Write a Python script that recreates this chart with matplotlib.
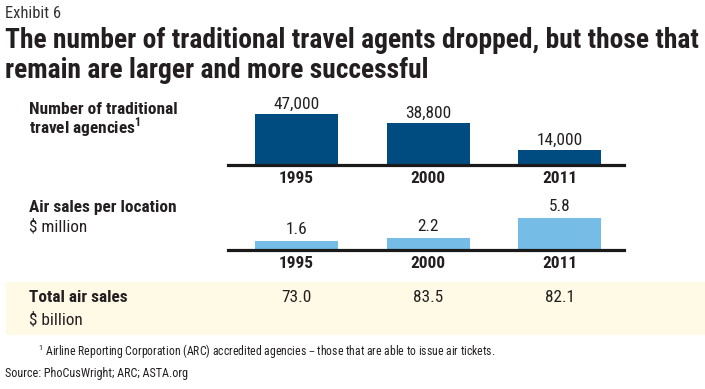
import matplotlib
matplotlib.use("Agg")
import matplotlib.pyplot as plt
from matplotlib.patches import Rectangle

years = ["1995", "2000", "2011"]
agencies = [47000, 38800, 14000]
agency_labels = ["47,000", "38,800", "14,000"]
sales_per_location = [1.6, 2.2, 5.8]
sales_labels = ["1.6", "2.2", "5.8"]
total_sales = ["73.0", "83.5", "82.1"]

plt.rcParams['font.family'] = ['Roboto Condensed', 'DejaVu Sans']

W, H = 705, 389
DARK = "#004B80"
LIGHT = "#75BCE7"
TXT = "#231F20"
BAND = "#FEFAE6"

fig = plt.figure(figsize=(W / 100, H / 100), dpi=100)
fig.patch.set_facecolor("white")
renderer = fig.canvas.get_renderer()

def fx(x):
    return x / W

def fy(y):
    return 1 - y / H

def ftext(x, y, s, fit=None, **kw):
    kw.setdefault("color", TXT)
    kw.setdefault("va", "center")
    t = fig.text(fx(x), fy(y), s, **kw)
    if fit is not None:
        w = t.get_window_extent(renderer).width
        t.set_fontsize(t.get_fontsize() * fit / w)
    return t

# header
ftext(5, 13, "Exhibit 6", fit=56, fontsize=11, color="#333333")
ftext(5, 41, "The number of traditional travel agents dropped, but those that",
      fit=692, fontsize=18, fontweight="bold")
ftext(5, 71, "remain are larger and more successful", fontsize=18, fontweight="bold")
# keep second title line same size as first
t1, t2 = fig.texts[1], fig.texts[2]
t2.set_fontsize(t1.get_fontsize())

# yellow band
fig.patches.append(Rectangle((fx(6), fy(335)), fx(W) - fx(6), (335 - 282) / H,
                             transform=fig.transFigure, facecolor=BAND,
                             edgecolor="none", zorder=0))

# row labels
lab = ftext(29, 109, "Number of traditional", fit=147, fontsize=11, fontweight="bold")
LS = lab.get_fontsize()
ftext(29, 127, "travel agencies$^{\\mathregular{1}}$", fontsize=LS, fontweight="bold")
ftext(29, 207, "Air sales per location", fontsize=LS, fontweight="bold")
ftext(29, 227, "$ million", fontsize=LS)
ftext(29, 298, "Total air sales", fontsize=LS, fontweight="bold")
ftext(29, 320, "$ billion", fontsize=LS)

# axes geometry
AX_L, AX_R = 228, 624
C0, STEP = 296.5, 131.5
xlim = ((AX_L - C0) / STEP, (AX_R - C0) / STEP)
bw = 83 / STEP
xs = list(range(len(years)))

def make_axes(base_y, height_px):
    ax = fig.add_axes([fx(AX_L), fy(base_y), (AX_R - AX_L) / W, height_px / H])
    ax.set_facecolor("none")
    for s in ["top", "left", "right"]:
        ax.spines[s].set_visible(False)
    ax.spines["bottom"].set_linewidth(2.3)
    ax.spines["bottom"].set_color("#1a1a1a")
    ax.spines["bottom"].set_zorder(5)
    ax.set_yticks([])
    ax.set_xlim(*xlim)
    ax.set_xticks(xs)
    ax.set_xticklabels(years, fontsize=LS, fontweight="bold", color=TXT)
    ax.tick_params(axis="x", length=0, pad=4)
    return ax

# top chart
ax1 = make_axes(165, 70)
ax1.set_ylim(0, 70 / 1.085 * 1000)
ax1.bar(xs, agencies, width=bw, color=DARK, zorder=2)
for x, v, s in zip(xs, agencies, agency_labels):
    ax1.annotate(s, (x, v), xytext=(0, 1.5), textcoords="offset points",
                 ha="center", va="bottom", fontsize=LS, color=TXT)

# bottom chart
ax2 = make_axes(250, 45)
ax2.set_ylim(0, 45 / 5.5)
ax2.bar(xs, sales_per_location, width=bw, color=LIGHT, zorder=2)
for x, v, s in zip(xs, sales_per_location, sales_labels):
    ax2.annotate(s, (x, v), xytext=(0, 3), textcoords="offset points",
                 ha="center", va="bottom", fontsize=LS, color=TXT)

# total air sales values
for i, s in enumerate(total_sales):
    ftext(C0 + i * STEP, 298, s, fontsize=LS, ha="center")

# footnote and source
ftext(38, 352, "$^{\\mathregular{1}}$ Airline Reporting Corporation (ARC) accredited agencies \u2013 those that are able to issue air tickets.",
      fit=461, fontsize=8)
ftext(5, 373, "Source: PhoCusWright; ARC; ASTA.org", fit=183, fontsize=8)

fig.savefig("out.png", dpi=100, facecolor="white")
